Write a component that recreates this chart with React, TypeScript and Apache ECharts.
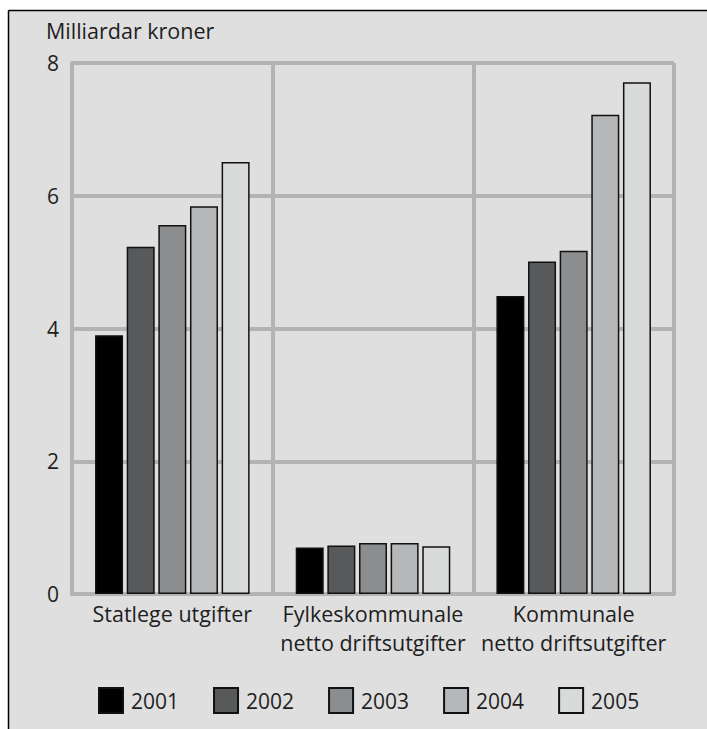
import React, { useEffect, useRef } from "react";
import * as echarts from "echarts";

const categories = ["Statlege utgifter", "Fylkeskommunale\nnetto driftsutgifter", "Kommunale\nnetto driftsutgifter"];
const years = ["2001", "2002", "2003", "2004", "2005"];
const values2001 = [3.9, 0.7, 4.49];
const values2002 = [5.23, 0.73, 5.01];
const values2003 = [5.56, 0.77, 5.17];
const values2004 = [5.84, 0.77, 7.22];
const values2005 = [6.51, 0.72, 7.71];
const yTicks = [0, 2, 4, 6, 8];
const colors = ["#000000", "#58595b", "#8c8d8f", "#b6b7b8", "#d9dbda"];

const FONT = "'Open Sans', 'Noto Sans', sans-serif";

export default function App() {
  const ref = useRef<HTMLDivElement>(null);
  useEffect(() => {
    if (!ref.current) return;
    const chart = echarts.init(ref.current, null, { renderer: "svg" });
    const seriesData = [values2001, values2002, values2003, values2004, values2005];
    chart.setOption({
      animation: false,
      backgroundColor: "#ffffff",
      textStyle: { fontFamily: FONT, color: "#1e1e1e" },
      graphic: [
        { type: "rect", z: -10, shape: { x: 8, y: 10, width: 699, height: 719 }, style: { fill: "#dfdfdf", stroke: "none" } },
        { type: "line", z: 10, shape: { x1: 8.5, y1: 10.5, x2: 707, y2: 10.5 }, style: { stroke: "#000", lineWidth: 1.5 } },
        { type: "line", z: 10, shape: { x1: 8.5, y1: 10.5, x2: 8.5, y2: 729 }, style: { stroke: "#000", lineWidth: 1.5 } },
        { type: "text", left: 46, top: 19, style: { text: "Milliardar kroner", fontSize: 21.5, fontFamily: FONT, fill: "#1e1e1e" } },
      ],
      grid: { left: 72, right: 33, top: 63, bottom: 135, containLabel: false },
      legend: {
        data: years,
        icon: "rect",
        left: 93,
        top: 682,
        itemWidth: 24,
        itemHeight: 25,
        itemGap: 34,
        selectedMode: false,
        textStyle: { fontSize: 21, fontFamily: FONT, color: "#1e1e1e", padding: [0, 0, 0, 3] },
      },
      xAxis: {
        type: "category",
        data: categories,
        axisLine: { show: true, lineStyle: { color: "#b3b3b3", width: 4 } },
        axisTick: { show: false },
        splitLine: { show: true, lineStyle: { color: "#b3b3b3", width: 4 } },
        axisLabel: { fontSize: 21.5, lineHeight: 29, margin: 5, color: "#1e1e1e", fontFamily: FONT, interval: 0 },
      },
      yAxis: {
        type: "value",
        min: yTicks[0],
        max: yTicks[yTicks.length - 1],
        interval: 2,
        axisLine: { show: true, lineStyle: { color: "#b3b3b3", width: 4 } },
        axisTick: { show: false },
        splitLine: { show: true, lineStyle: { color: "#b3b3b3", width: 4 } },
        axisLabel: { fontSize: 21, margin: 13, color: "#1e1e1e", fontFamily: FONT },
      },
      series: years.map((y, i) => ({
        name: y,
        type: "bar",
        data: seriesData[i],
        barWidth: 28,
        barGap: "13%",
        itemStyle: { color: colors[i], borderColor: "#111", borderWidth: 1.5 },
      })),
    });
    return () => chart.dispose();
  }, []);
  return <div ref={ref} style={{ position: "absolute", left: 0, top: 0, width: 707, height: 729 }} />;
}
